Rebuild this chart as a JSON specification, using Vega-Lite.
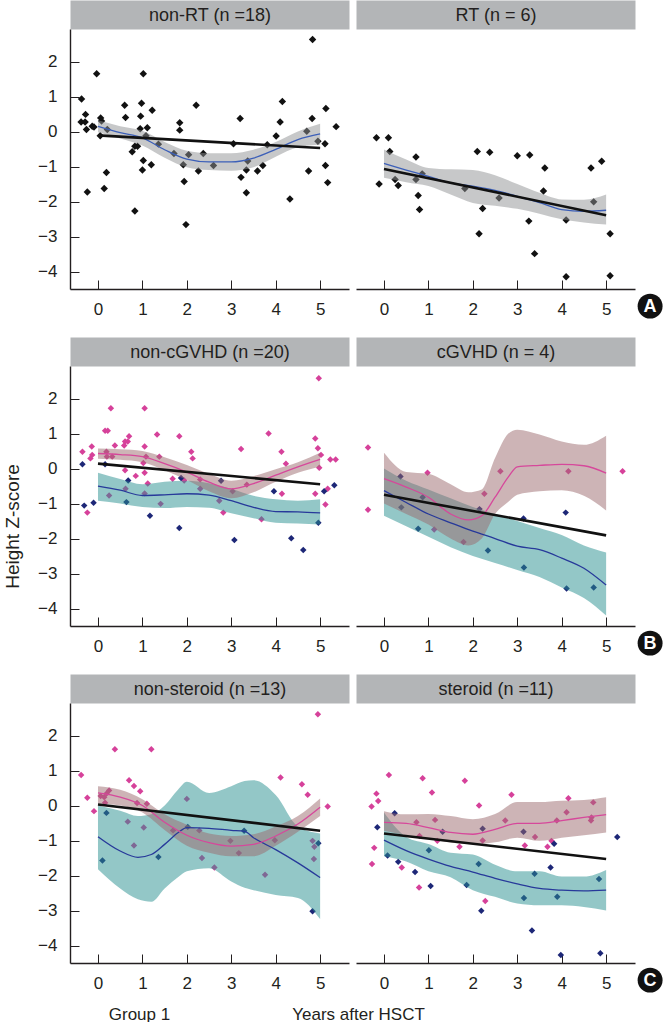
{
  "$schema": "https://vega.github.io/schema/vega-lite/v6.json",
  "padding": {"left": 3, "top": 6, "right": 0, "bottom": 0},
  "background": "white",
  "columns": 2,
  "spacing": {"column": 7, "row": 77},
  "bounds": "flush",
  "config": {
    "view": {"stroke": null},
    "font": "Liberation Sans",
    "axis": {"grid": false, "domainColor": "#231f20", "domainWidth": 1.4, "tickColor": "#231f20", "tickWidth": 1, "tickSize": -9, "labelFont": "Liberation Sans", "labelFontSize": 17, "labelColor": "#231f20", "titleFont": "Liberation Sans", "titleFontWeight": "normal", "titleColor": "#231f20", "titleFontSize": 17},
    "axisX": {"labelPadding": 21},
    "axisY": {"labelPadding": 22}
  },
  "datasets": {
    "pts": [
      {"p":"A1","g":"k","x":-0.37,"y":0.93},{"p":"A1","g":"k","x":-0.28,"y":0.49},{"p":"A1","g":"k","x":-0.38,"y":0.27},{"p":"A1","g":"k","x":-0.29,"y":0.27},{"p":"A1","g":"k","x":-0.26,"y":0.06},{"p":"A1","g":"k","x":-0.24,"y":-1.73},{"p":"A1","g":"k","x":-0.13,"y":0.15},{"p":"A1","g":"k","x":-0.09,"y":0.13},{"p":"A1","g":"k","x":-0.03,"y":1.65},{"p":"A1","g":"k","x":0.06,"y":0.39},{"p":"A1","g":"k","x":0.08,"y":0.30},{"p":"A1","g":"k","x":0.05,"y":-0.12},{"p":"A1","g":"k","x":0.21,"y":0.06},{"p":"A1","g":"k","x":0.14,"y":-1.63},{"p":"A1","g":"k","x":0.19,"y":-1.17},{"p":"A1","g":"k","x":0.60,"y":0.75},{"p":"A1","g":"k","x":0.62,"y":0.40},{"p":"A1","g":"k","x":0.77,"y":-0.58},{"p":"A1","g":"k","x":0.83,"y":-0.42},{"p":"A1","g":"k","x":0.89,"y":-0.42},{"p":"A1","g":"k","x":0.83,"y":-2.27},{"p":"A1","g":"k","x":0.98,"y":0.81},{"p":"A1","g":"k","x":0.96,"y":0.44},{"p":"A1","g":"k","x":0.95,"y":0.08},{"p":"A1","g":"k","x":1.02,"y":1.65},{"p":"A1","g":"k","x":1.02,"y":-0.83},{"p":"A1","g":"k","x":1.00,"y":-1.10},{"p":"A1","g":"k","x":1.08,"y":-0.12},{"p":"A1","g":"k","x":1.11,"y":0.11},{"p":"A1","g":"k","x":1.20,"y":-0.95},{"p":"A1","g":"k","x":1.22,"y":0.61},{"p":"A1","g":"k","x":1.36,"y":-0.36},{"p":"A1","g":"k","x":1.71,"y":-0.63},{"p":"A1","g":"k","x":1.84,"y":0.25},{"p":"A1","g":"k","x":1.84,"y":0.04},{"p":"A1","g":"k","x":1.92,"y":-0.95},{"p":"A1","g":"k","x":1.94,"y":-1.43},{"p":"A1","g":"k","x":1.98,"y":-2.66},{"p":"A1","g":"k","x":2.04,"y":-0.66},{"p":"A1","g":"k","x":2.21,"y":0.75},{"p":"A1","g":"k","x":2.26,"y":-1.13},{"p":"A1","g":"k","x":2.37,"y":-0.63},{"p":"A1","g":"k","x":2.60,"y":-0.97},{"p":"A1","g":"k","x":3.05,"y":-0.35},{"p":"A1","g":"k","x":3.20,"y":0.37},{"p":"A1","g":"k","x":3.22,"y":-1.31},{"p":"A1","g":"k","x":3.34,"y":-1.10},{"p":"A1","g":"k","x":3.37,"y":-0.84},{"p":"A1","g":"k","x":3.34,"y":-1.75},{"p":"A1","g":"k","x":3.59,"y":-1.13},{"p":"A1","g":"k","x":3.71,"y":-0.97},{"p":"A1","g":"k","x":3.81,"y":-0.38},{"p":"A1","g":"k","x":4.01,"y":-0.13},{"p":"A1","g":"k","x":4.10,"y":0.27},{"p":"A1","g":"k","x":4.15,"y":0.86},{"p":"A1","g":"k","x":4.32,"y":-1.93},{"p":"A1","g":"k","x":4.70,"y":0.01},{"p":"A1","g":"k","x":4.74,"y":-1.13},{"p":"A1","g":"k","x":4.82,"y":0.37},{"p":"A1","g":"k","x":4.83,"y":2.63},{"p":"A1","g":"k","x":4.95,"y":-0.28},{"p":"A1","g":"k","x":5.11,"y":-0.35},{"p":"A1","g":"k","x":5.12,"y":-0.97},{"p":"A1","g":"k","x":5.13,"y":0.66},{"p":"A1","g":"k","x":5.17,"y":-1.46},{"p":"A1","g":"k","x":5.36,"y":0.14},
      {"p":"A2","g":"k","x":-0.17,"y":-0.18},{"p":"A2","g":"k","x":0.10,"y":-0.18},{"p":"A2","g":"k","x":0.13,"y":-0.57},{"p":"A2","g":"k","x":-0.11,"y":-1.50},{"p":"A2","g":"k","x":0.25,"y":-1.37},{"p":"A2","g":"k","x":0.32,"y":-1.54},{"p":"A2","g":"k","x":0.72,"y":-0.73},{"p":"A2","g":"k","x":0.72,"y":-1.37},{"p":"A2","g":"k","x":0.86,"y":-1.21},{"p":"A2","g":"k","x":0.77,"y":-1.83},{"p":"A2","g":"k","x":0.80,"y":-2.23},{"p":"A2","g":"k","x":1.82,"y":-1.63},{"p":"A2","g":"k","x":2.10,"y":-0.57},{"p":"A2","g":"k","x":2.38,"y":-0.59},{"p":"A2","g":"k","x":2.22,"y":-2.20},{"p":"A2","g":"k","x":2.14,"y":-2.92},{"p":"A2","g":"k","x":2.59,"y":-1.90},{"p":"A2","g":"k","x":3.00,"y":-0.69},{"p":"A2","g":"k","x":3.28,"y":-0.67},{"p":"A2","g":"k","x":3.26,"y":-2.56},{"p":"A2","g":"k","x":3.39,"y":-3.49},{"p":"A2","g":"k","x":3.62,"y":-1.04},{"p":"A2","g":"k","x":3.59,"y":-1.70},{"p":"A2","g":"k","x":4.10,"y":-2.53},{"p":"A2","g":"k","x":4.10,"y":-4.15},{"p":"A2","g":"k","x":4.66,"y":-1.04},{"p":"A2","g":"k","x":4.72,"y":-2.01},{"p":"A2","g":"k","x":4.90,"y":-0.85},{"p":"A2","g":"k","x":5.09,"y":-2.92},{"p":"A2","g":"k","x":5.09,"y":-4.12},
      {"p":"B1","g":"p","x":-0.35,"y":0.48},{"p":"B1","g":"p","x":-0.24,"y":-1.26},{"p":"B1","g":"p","x":-0.14,"y":0.63},{"p":"B1","g":"p","x":-0.17,"y":0.29},{"p":"B1","g":"p","x":-0.13,"y":0.39},{"p":"B1","g":"p","x":0.19,"y":0.48},{"p":"B1","g":"p","x":0.16,"y":1.08},{"p":"B1","g":"p","x":0.22,"y":1.08},{"p":"B1","g":"p","x":0.20,"y":0.34},{"p":"B1","g":"p","x":0.29,"y":1.72},{"p":"B1","g":"p","x":0.38,"y":0.66},{"p":"B1","g":"p","x":0.32,"y":0.34},{"p":"B1","g":"p","x":0.25,"y":-0.77},{"p":"B1","g":"p","x":0.59,"y":0.66},{"p":"B1","g":"p","x":0.61,"y":0.77},{"p":"B1","g":"p","x":0.70,"y":0.92},{"p":"B1","g":"p","x":0.67,"y":0.77},{"p":"B1","g":"p","x":0.61,"y":-0.05},{"p":"B1","g":"p","x":0.62,"y":-0.58},{"p":"B1","g":"p","x":0.85,"y":-0.21},{"p":"B1","g":"p","x":1.05,"y":1.72},{"p":"B1","g":"p","x":1.05,"y":0.63},{"p":"B1","g":"p","x":1.02,"y":0.16},{"p":"B1","g":"p","x":1.08,"y":0.34},{"p":"B1","g":"p","x":1.05,"y":-0.12},{"p":"B1","g":"p","x":1.12,"y":-0.43},{"p":"B1","g":"p","x":1.05,"y":-0.71},{"p":"B1","g":"p","x":1.38,"y":0.34},{"p":"B1","g":"p","x":1.33,"y":0.97},{"p":"B1","g":"p","x":1.83,"y":0.92},{"p":"B1","g":"p","x":1.68,"y":-0.29},{"p":"B1","g":"p","x":1.41,"y":-1.01},{"p":"B1","g":"p","x":2.10,"y":0.48},{"p":"B1","g":"p","x":2.13,"y":0.29},{"p":"B1","g":"p","x":1.94,"y":-0.34},{"p":"B1","g":"p","x":2.30,"y":-0.31},{"p":"B1","g":"p","x":2.30,"y":-0.58},{"p":"B1","g":"p","x":2.73,"y":-0.92},{"p":"B1","g":"p","x":2.82,"y":-1.26},{"p":"B1","g":"p","x":3.03,"y":-0.65},{"p":"B1","g":"p","x":3.22,"y":0.56},{"p":"B1","g":"p","x":3.35,"y":-0.46},{"p":"B1","g":"p","x":3.68,"y":-1.45},{"p":"B1","g":"p","x":3.84,"y":1.00},{"p":"B1","g":"p","x":4.13,"y":0.48},{"p":"B1","g":"p","x":4.23,"y":0.14},{"p":"B1","g":"p","x":4.14,"y":-0.72},{"p":"B1","g":"p","x":4.89,"y":0.86},{"p":"B1","g":"p","x":4.95,"y":0.58},{"p":"B1","g":"p","x":4.97,"y":2.58},{"p":"B1","g":"p","x":4.98,"y":0.02},{"p":"B1","g":"p","x":5.02,"y":0.39},{"p":"B1","g":"p","x":4.89,"y":-0.72},{"p":"B1","g":"p","x":5.12,"y":-1.03},{"p":"B1","g":"p","x":5.17,"y":-0.58},{"p":"B1","g":"p","x":5.23,"y":0.26},{"p":"B1","g":"p","x":5.35,"y":0.26},
      {"p":"B1","g":"n","x":-0.35,"y":0.12},{"p":"B1","g":"n","x":-0.31,"y":-1.06},{"p":"B1","g":"n","x":-0.10,"y":-0.98},{"p":"B1","g":"n","x":0.16,"y":0.12},{"p":"B1","g":"n","x":0.68,"y":-0.34},{"p":"B1","g":"n","x":0.64,"y":-0.96},{"p":"B1","g":"n","x":1.17,"y":-1.35},{"p":"B1","g":"n","x":1.87,"y":-0.27},{"p":"B1","g":"n","x":1.83,"y":-1.70},{"p":"B1","g":"n","x":2.77,"y":-0.35},{"p":"B1","g":"n","x":3.07,"y":-2.04},{"p":"B1","g":"n","x":3.96,"y":-0.65},{"p":"B1","g":"n","x":4.35,"y":-1.99},{"p":"B1","g":"n","x":4.62,"y":-2.33},{"p":"B1","g":"n","x":4.96,"y":-1.55},{"p":"B1","g":"n","x":5.09,"y":-0.65},{"p":"B1","g":"n","x":5.32,"y":-0.48},
      {"p":"B2","g":"p","x":-0.36,"y":0.60},{"p":"B2","g":"p","x":-0.36,"y":-1.18},{"p":"B2","g":"p","x":0.98,"y":-0.12},{"p":"B2","g":"p","x":1.13,"y":-1.74},{"p":"B2","g":"p","x":1.79,"y":-2.10},{"p":"B2","g":"p","x":2.26,"y":-0.72},{"p":"B2","g":"p","x":2.62,"y":-0.08},{"p":"B2","g":"p","x":4.15,"y":-0.08},{"p":"B2","g":"p","x":5.37,"y":-0.08},
      {"p":"B2","g":"n","x":0.37,"y":-0.23},{"p":"B2","g":"n","x":0.39,"y":-1.11},{"p":"B2","g":"n","x":0.77,"y":-1.72},{"p":"B2","g":"n","x":0.87,"y":-0.82},{"p":"B2","g":"n","x":2.15,"y":-1.16},{"p":"B2","g":"n","x":2.34,"y":-2.34},{"p":"B2","g":"n","x":3.14,"y":-1.43},{"p":"B2","g":"n","x":3.15,"y":-2.83},{"p":"B2","g":"n","x":4.09,"y":-1.26},{"p":"B2","g":"n","x":4.11,"y":-3.43},{"p":"B2","g":"n","x":4.72,"y":-3.40},
      {"p":"C1","g":"p","x":-0.38,"y":0.87},{"p":"C1","g":"p","x":-0.24,"y":0.22},{"p":"C1","g":"p","x":-0.09,"y":-0.16},{"p":"C1","g":"p","x":0.06,"y":0.27},{"p":"C1","g":"p","x":0.14,"y":0.24},{"p":"C1","g":"p","x":0.16,"y":0.08},{"p":"C1","g":"p","x":0.19,"y":0.34},{"p":"C1","g":"p","x":0.25,"y":0.43},{"p":"C1","g":"p","x":0.38,"y":1.61},{"p":"C1","g":"p","x":0.67,"y":-0.46},{"p":"C1","g":"p","x":0.70,"y":0.72},{"p":"C1","g":"p","x":0.81,"y":0.56},{"p":"C1","g":"p","x":0.81,"y":-1.14},{"p":"C1","g":"p","x":0.95,"y":0.41},{"p":"C1","g":"p","x":0.88,"y":0.07},{"p":"C1","g":"p","x":1.03,"y":-0.63},{"p":"C1","g":"p","x":1.10,"y":0.05},{"p":"C1","g":"p","x":1.20,"y":1.61},{"p":"C1","g":"p","x":1.69,"y":-0.71},{"p":"C1","g":"p","x":2.00,"y":0.19},{"p":"C1","g":"p","x":2.28,"y":-0.71},{"p":"C1","g":"p","x":2.34,"y":-1.50},{"p":"C1","g":"p","x":2.62,"y":-1.77},{"p":"C1","g":"p","x":2.98,"y":-1.01},{"p":"C1","g":"p","x":3.17,"y":-1.36},{"p":"C1","g":"p","x":3.76,"y":-1.98},{"p":"C1","g":"p","x":3.98,"y":-0.99},{"p":"C1","g":"p","x":4.11,"y":0.80},{"p":"C1","g":"p","x":4.59,"y":0.61},{"p":"C1","g":"p","x":4.72,"y":0.31},{"p":"C1","g":"p","x":4.83,"y":-1.01},{"p":"C1","g":"p","x":4.87,"y":-1.18},{"p":"C1","g":"p","x":4.86,"y":-1.53},{"p":"C1","g":"p","x":4.95,"y":2.61},{"p":"C1","g":"p","x":5.17,"y":-0.03},
      {"p":"C1","g":"n","x":0.19,"y":-0.21},{"p":"C1","g":"n","x":0.10,"y":-1.57},{"p":"C1","g":"n","x":1.36,"y":-1.47},{"p":"C1","g":"n","x":2.02,"y":-0.61},{"p":"C1","g":"n","x":3.29,"y":-0.72},{"p":"C1","g":"n","x":4.83,"y":-3.02},{"p":"C1","g":"n","x":4.96,"y":-1.08},
      {"p":"C2","g":"p","x":-0.28,"y":-0.03},{"p":"C2","g":"p","x":-0.17,"y":0.34},{"p":"C2","g":"p","x":-0.13,"y":0.13},{"p":"C2","g":"p","x":-0.22,"y":-1.21},{"p":"C2","g":"p","x":-0.27,"y":-1.67},{"p":"C2","g":"p","x":0.11,"y":0.87},{"p":"C2","g":"p","x":0.40,"y":-1.77},{"p":"C2","g":"p","x":0.73,"y":-0.48},{"p":"C2","g":"p","x":0.80,"y":-0.87},{"p":"C2","g":"p","x":0.79,"y":-2.34},{"p":"C2","g":"p","x":0.87,"y":0.78},{"p":"C2","g":"p","x":1.08,"y":0.37},{"p":"C2","g":"p","x":1.15,"y":-0.41},{"p":"C2","g":"p","x":1.20,"y":-1.01},{"p":"C2","g":"p","x":1.70,"y":-1.18},{"p":"C2","g":"p","x":1.82,"y":0.71},{"p":"C2","g":"p","x":2.14,"y":0.00},{"p":"C2","g":"p","x":2.22,"y":-1.00},{"p":"C2","g":"p","x":2.28,"y":-2.73},{"p":"C2","g":"p","x":2.73,"y":-0.43},{"p":"C2","g":"p","x":2.87,"y":0.31},{"p":"C2","g":"p","x":3.17,"y":-1.14},{"p":"C2","g":"p","x":3.40,"y":-0.90},{"p":"C2","g":"p","x":3.68,"y":-1.18},{"p":"C2","g":"p","x":3.77,"y":-1.01},{"p":"C2","g":"p","x":3.89,"y":-0.43},{"p":"C2","g":"p","x":4.11,"y":-0.19},{"p":"C2","g":"p","x":4.15,"y":0.21},{"p":"C2","g":"p","x":4.66,"y":-0.43},{"p":"C2","g":"p","x":4.67,"y":-0.34},{"p":"C2","g":"p","x":4.71,"y":0.09},
      {"p":"C2","g":"n","x":-0.15,"y":-0.62},{"p":"C2","g":"n","x":0.24,"y":-0.22},{"p":"C2","g":"n","x":0.08,"y":-1.43},{"p":"C2","g":"n","x":0.32,"y":-1.61},{"p":"C2","g":"n","x":0.70,"y":-1.90},{"p":"C2","g":"n","x":1.01,"y":-1.28},{"p":"C2","g":"n","x":1.05,"y":-2.30},{"p":"C2","g":"n","x":1.32,"y":-0.75},{"p":"C2","g":"n","x":1.86,"y":-2.27},{"p":"C2","g":"n","x":2.13,"y":-1.67},{"p":"C2","g":"n","x":2.19,"y":-3.01},{"p":"C2","g":"n","x":2.22,"y":-0.66},{"p":"C2","g":"n","x":3.14,"y":-0.75},{"p":"C2","g":"n","x":3.15,"y":-2.64},{"p":"C2","g":"n","x":3.33,"y":-3.57},{"p":"C2","g":"n","x":3.39,"y":-1.95},{"p":"C2","g":"n","x":3.75,"y":-1.77},{"p":"C2","g":"n","x":3.83,"y":-1.09},{"p":"C2","g":"n","x":3.90,"y":-2.61},{"p":"C2","g":"n","x":3.98,"y":-4.27},{"p":"C2","g":"n","x":4.84,"y":-2.10},{"p":"C2","g":"n","x":4.87,"y":-4.22},{"p":"C2","g":"n","x":5.25,"y":-0.90}
    ],
    "fit": [
      {"p":"A1","g":"k","x":0,"y":0.15,"lo":-0.02,"hi":0.32},{"p":"A1","g":"k","x":0.5,"y":-0.03,"lo":-0.2,"hi":0.15},{"p":"A1","g":"k","x":1,"y":-0.18,"lo":-0.4,"hi":0.02},{"p":"A1","g":"k","x":1.5,"y":-0.52,"lo":-0.75,"hi":-0.3},{"p":"A1","g":"k","x":2,"y":-0.79,"lo":-1.02,"hi":-0.55},{"p":"A1","g":"k","x":2.5,"y":-0.87,"lo":-1.1,"hi":-0.62},{"p":"A1","g":"k","x":3,"y":-0.87,"lo":-1.12,"hi":-0.62},{"p":"A1","g":"k","x":3.5,"y":-0.76,"lo":-1.02,"hi":-0.52},{"p":"A1","g":"k","x":4,"y":-0.51,"lo":-0.72,"hi":-0.3},{"p":"A1","g":"k","x":4.5,"y":-0.23,"lo":-0.45,"hi":0.0},{"p":"A1","g":"k","x":5,"y":-0.07,"lo":-0.38,"hi":0.22},
      {"p":"A2","g":"k","x":0,"y":-0.91,"lo":-1.32,"hi":-0.51},{"p":"A2","g":"k","x":0.5,"y":-1.1,"lo":-1.45,"hi":-0.8},{"p":"A2","g":"k","x":1,"y":-1.28,"lo":-1.56,"hi":-1.04},{"p":"A2","g":"k","x":1.5,"y":-1.47,"lo":-1.8,"hi":-1.08},{"p":"A2","g":"k","x":2,"y":-1.56,"lo":-2.04,"hi":-1.1},{"p":"A2","g":"k","x":2.5,"y":-1.68,"lo":-2.12,"hi":-1.25},{"p":"A2","g":"k","x":3,"y":-1.85,"lo":-2.21,"hi":-1.5},{"p":"A2","g":"k","x":3.5,"y":-2.03,"lo":-2.35,"hi":-1.75},{"p":"A2","g":"k","x":4,"y":-2.23,"lo":-2.51,"hi":-1.94},{"p":"A2","g":"k","x":4.5,"y":-2.28,"lo":-2.6,"hi":-1.95},{"p":"A2","g":"k","x":5,"y":-2.25,"lo":-2.66,"hi":-1.8},
      {"p":"B1","g":"p","x":0,"y":0.43,"lo":0.28,"hi":0.57},{"p":"B1","g":"p","x":0.5,"y":0.4,"lo":0.25,"hi":0.55},{"p":"B1","g":"p","x":1,"y":0.34,"lo":0.18,"hi":0.5},{"p":"B1","g":"p","x":1.5,"y":0.14,"lo":-0.05,"hi":0.32},{"p":"B1","g":"p","x":2,"y":-0.1,"lo":-0.33,"hi":0.1},{"p":"B1","g":"p","x":2.5,"y":-0.39,"lo":-0.65,"hi":-0.15},{"p":"B1","g":"p","x":3,"y":-0.58,"lo":-0.85,"hi":-0.35},{"p":"B1","g":"p","x":3.5,"y":-0.43,"lo":-0.68,"hi":-0.22},{"p":"B1","g":"p","x":4,"y":-0.19,"lo":-0.38,"hi":-0.02},{"p":"B1","g":"p","x":4.5,"y":0.05,"lo":-0.12,"hi":0.18},{"p":"B1","g":"p","x":5,"y":0.26,"lo":0.05,"hi":0.45},
      {"p":"B1","g":"n","x":0,"y":-0.5,"lo":-0.92,"hi":-0.12},{"p":"B1","g":"n","x":0.5,"y":-0.62,"lo":-1.0,"hi":-0.3},{"p":"B1","g":"n","x":1,"y":-0.77,"lo":-1.1,"hi":-0.45},{"p":"B1","g":"n","x":1.5,"y":-0.75,"lo":-1.13,"hi":-0.38},{"p":"B1","g":"n","x":2,"y":-0.72,"lo":-1.1,"hi":-0.35},{"p":"B1","g":"n","x":2.5,"y":-0.76,"lo":-1.12,"hi":-0.42},{"p":"B1","g":"n","x":3,"y":-0.92,"lo":-1.28,"hi":-0.58},{"p":"B1","g":"n","x":3.5,"y":-1.11,"lo":-1.42,"hi":-0.78},{"p":"B1","g":"n","x":4,"y":-1.23,"lo":-1.55,"hi":-0.88},{"p":"B1","g":"n","x":4.5,"y":-1.24,"lo":-1.57,"hi":-0.92},{"p":"B1","g":"n","x":5,"y":-1.27,"lo":-1.6,"hi":-0.88},
      {"p":"B2","g":"p","x":0,"y":-0.29,"lo":-1.0,"hi":0.45},{"p":"B2","g":"p","x":0.5,"y":-0.53,"lo":-1.3,"hi":-0.1},{"p":"B2","g":"p","x":1,"y":-0.82,"lo":-1.6,"hi":-0.15},{"p":"B2","g":"p","x":1.5,"y":-1.3,"lo":-2.0,"hi":-0.45},{"p":"B2","g":"p","x":1.9,"y":-1.47,"lo":-2.2,"hi":-0.68},{"p":"B2","g":"p","x":2.2,"y":-1.35,"lo":-2.0,"hi":-0.6},{"p":"B2","g":"p","x":2.5,"y":-0.82,"lo":-1.3,"hi":0.3},{"p":"B2","g":"p","x":2.8,"y":-0.24,"lo":-0.95,"hi":1.0},{"p":"B2","g":"p","x":3,"y":0.05,"lo":-0.75,"hi":1.11},{"p":"B2","g":"p","x":3.5,"y":0.09,"lo":-0.65,"hi":0.97},{"p":"B2","g":"p","x":4,"y":0.12,"lo":-0.62,"hi":0.77},{"p":"B2","g":"p","x":4.5,"y":0.08,"lo":-0.78,"hi":0.68},{"p":"B2","g":"p","x":5,"y":-0.13,"lo":-1.2,"hi":0.94},
      {"p":"B2","g":"n","x":0,"y":-0.63,"lo":-1.35,"hi":0.0},{"p":"B2","g":"n","x":0.5,"y":-0.97,"lo":-1.65,"hi":-0.35},{"p":"B2","g":"n","x":1,"y":-1.3,"lo":-1.95,"hi":-0.6},{"p":"B2","g":"n","x":1.5,"y":-1.55,"lo":-2.25,"hi":-0.85},{"p":"B2","g":"n","x":2,"y":-1.79,"lo":-2.5,"hi":-1.1},{"p":"B2","g":"n","x":2.5,"y":-2.0,"lo":-2.7,"hi":-1.3},{"p":"B2","g":"n","x":3,"y":-2.22,"lo":-2.9,"hi":-1.5},{"p":"B2","g":"n","x":3.5,"y":-2.32,"lo":-3.1,"hi":-1.7},{"p":"B2","g":"n","x":4,"y":-2.56,"lo":-3.4,"hi":-1.9},{"p":"B2","g":"n","x":4.5,"y":-2.85,"lo":-3.7,"hi":-2.2},{"p":"B2","g":"n","x":5,"y":-3.33,"lo":-4.2,"hi":-2.4},
      {"p":"C1","g":"p","x":0,"y":0.36,"lo":0.05,"hi":0.55},{"p":"C1","g":"p","x":0.5,"y":0.24,"lo":0.0,"hi":0.45},{"p":"C1","g":"p","x":1,"y":0.0,"lo":-0.2,"hi":0.18},{"p":"C1","g":"p","x":1.5,"y":-0.48,"lo":-0.7,"hi":-0.25},{"p":"C1","g":"p","x":2,"y":-0.85,"lo":-1.15,"hi":-0.55},{"p":"C1","g":"p","x":2.5,"y":-1.06,"lo":-1.35,"hi":-0.8},{"p":"C1","g":"p","x":3,"y":-1.16,"lo":-1.45,"hi":-0.87},{"p":"C1","g":"p","x":3.5,"y":-1.11,"lo":-1.45,"hi":-0.82},{"p":"C1","g":"p","x":4,"y":-0.87,"lo":-1.15,"hi":-0.6},{"p":"C1","g":"p","x":4.5,"y":-0.53,"lo":-0.75,"hi":-0.3},{"p":"C1","g":"p","x":5,"y":-0.05,"lo":-0.3,"hi":0.2},
      {"p":"C1","g":"n","x":0,"y":-0.89,"lo":-1.82,"hi":0.0},{"p":"C1","g":"n","x":0.5,"y":-1.3,"lo":-2.37,"hi":-0.15},{"p":"C1","g":"n","x":0.9,"y":-1.48,"lo":-2.68,"hi":-0.3},{"p":"C1","g":"n","x":1.2,"y":-1.4,"lo":-2.75,"hi":-0.25},{"p":"C1","g":"n","x":1.5,"y":-1.11,"lo":-2.37,"hi":0.0},{"p":"C1","g":"n","x":1.8,"y":-0.78,"lo":-2.05,"hi":0.45},{"p":"C1","g":"n","x":2,"y":-0.63,"lo":-1.88,"hi":0.68},{"p":"C1","g":"n","x":2.5,"y":-0.65,"lo":-1.79,"hi":0.36},{"p":"C1","g":"n","x":3,"y":-0.71,"lo":-2.17,"hi":0.55},{"p":"C1","g":"n","x":3.3,"y":-0.74,"lo":-2.35,"hi":0.7},{"p":"C1","g":"n","x":3.5,"y":-0.92,"lo":-2.42,"hi":0.72},{"p":"C1","g":"n","x":4,"y":-1.26,"lo":-2.56,"hi":0.3},{"p":"C1","g":"n","x":4.5,"y":-1.64,"lo":-2.64,"hi":-0.6},{"p":"C1","g":"n","x":5,"y":-2.06,"lo":-3.24,"hi":-0.8},
      {"p":"C2","g":"p","x":0,"y":-0.48,"lo":-0.72,"hi":-0.16},{"p":"C2","g":"p","x":0.5,"y":-0.51,"lo":-0.85,"hi":-0.25},{"p":"C2","g":"p","x":1,"y":-0.63,"lo":-0.95,"hi":-0.24},{"p":"C2","g":"p","x":1.5,"y":-0.77,"lo":-1.06,"hi":-0.3},{"p":"C2","g":"p","x":2,"y":-0.82,"lo":-1.11,"hi":-0.39},{"p":"C2","g":"p","x":2.5,"y":-0.68,"lo":-1.05,"hi":-0.24},{"p":"C2","g":"p","x":3,"y":-0.51,"lo":-0.92,"hi":0.1},{"p":"C2","g":"p","x":3.5,"y":-0.51,"lo":-1.01,"hi":0.1},{"p":"C2","g":"p","x":4,"y":-0.43,"lo":-0.92,"hi":0.14},{"p":"C2","g":"p","x":4.5,"y":-0.34,"lo":-0.85,"hi":0.16},{"p":"C2","g":"p","x":5,"y":-0.26,"lo":-0.77,"hi":0.24},
      {"p":"C2","g":"n","x":0,"y":-0.99,"lo":-1.45,"hi":-0.2},{"p":"C2","g":"n","x":0.5,"y":-1.29,"lo":-1.6,"hi":-0.9},{"p":"C2","g":"n","x":1,"y":-1.53,"lo":-1.88,"hi":-1.1},{"p":"C2","g":"n","x":1.5,"y":-1.74,"lo":-2.05,"hi":-1.35},{"p":"C2","g":"n","x":2,"y":-1.9,"lo":-2.42,"hi":-1.4},{"p":"C2","g":"n","x":2.5,"y":-2.08,"lo":-2.61,"hi":-1.69},{"p":"C2","g":"n","x":3,"y":-2.24,"lo":-2.8,"hi":-1.88},{"p":"C2","g":"n","x":3.5,"y":-2.37,"lo":-2.85,"hi":-1.88},{"p":"C2","g":"n","x":4,"y":-2.42,"lo":-2.85,"hi":-2.03},{"p":"C2","g":"n","x":4.5,"y":-2.44,"lo":-2.9,"hi":-2.03},{"p":"C2","g":"n","x":5,"y":-2.42,"lo":-3.0,"hi":-1.84}
    ],
    "reg": [
      {"p":"A1","x":0,"y":-0.11},{"p":"A1","x":5,"y":-0.47},
      {"p":"A2","x":0,"y":-1.07},{"p":"A2","x":5,"y":-2.39},
      {"p":"B1","x":0,"y":0.14},{"p":"B1","x":5,"y":-0.45},
      {"p":"B2","x":0,"y":-0.75},{"p":"B2","x":5,"y":-1.91},
      {"p":"C1","x":0,"y":0.03},{"p":"C1","x":5,"y":-0.72},
      {"p":"C2","x":0,"y":-0.8},{"p":"C2","x":5,"y":-1.53}
    ]
  },
  "concat": [
    {
      "width": 279, "height": 260,
      "layer": [
        {"data": {"name": "pts"}, "transform": [{"filter": "datum.p == 'A1'"}],
         "mark": {"type": "point", "shape": "diamond", "filled": true, "size": 55, "opacity": 1},
         "encoding": {
           "x": {"field": "x", "type": "quantitative", "scale": {"domain": [-0.63, 5.65], "nice": false, "zero": false}, "axis": {"orient": "bottom", "values": [0,1,2,3,4,5], "title": null}},
           "y": {"field": "y", "type": "quantitative", "scale": {"domain": [-4.5, 2.93], "nice": false, "zero": false}, "axis": {"orient": "left", "values": [-4,-3,-2,-1,0,1,2], "title": null}},
           "color": {"field": "g", "type": "nominal", "scale": {"domain": ["k","p","n"], "range": ["#111111","#d6419a","#1d2777"]}, "legend": null}
         }},
        {"data": {"name": "fit"}, "transform": [{"filter": "datum.p == 'A1' && datum.g == 'k'"}],
         "mark": {"type": "area", "color": "#8f9194", "opacity": 0.5, "interpolate": "monotone"},
         "encoding": {
           "x": {"field": "x", "type": "quantitative", "scale": {"domain": [-0.63, 5.65], "nice": false, "zero": false}, "axis": null},
           "y": {"field": "lo", "type": "quantitative", "stack": null, "scale": {"domain": [-4.5, 2.93], "nice": false, "zero": false}, "axis": {"orient": "left", "values": [-4,-3,-2,-1,0,1,2], "title": null}},
           "y2": {"field": "hi"}}},
        {"data": {"name": "fit"}, "transform": [{"filter": "datum.p == 'A1' && datum.g == 'k'"}],
         "mark": {"type": "line", "color": "#3c5fb8", "strokeWidth": 1.3, "interpolate": "monotone"},
         "encoding": {
           "x": {"field": "x", "type": "quantitative", "scale": {"domain": [-0.63, 5.65], "nice": false, "zero": false}, "axis": null},
           "y": {"field": "y", "type": "quantitative", "scale": {"domain": [-4.5, 2.93], "nice": false, "zero": false}, "axis": {"orient": "left", "values": [-4,-3,-2,-1,0,1,2], "title": null}}}},
        {"data": {"name": "reg"}, "transform": [{"filter": "datum.p == 'A1'"}],
         "mark": {"type": "line", "color": "#111111", "strokeWidth": 2.6},
         "encoding": {
           "x": {"field": "x", "type": "quantitative", "scale": {"domain": [-0.63, 5.65], "nice": false, "zero": false}, "axis": {"orient": "top", "labels": false, "ticks": false, "domainColor": "#b3b5b7", "domainWidth": 29, "offset": 14.5, "title": "non-RT (n =18)", "titleFontSize": 18, "titleY": 1, "titleBaseline": "middle"}},
           "y": {"field": "y", "type": "quantitative", "scale": {"domain": [-4.5, 2.93], "nice": false, "zero": false}, "axis": {"orient": "left", "values": [-4,-3,-2,-1,0,1,2], "title": null}}}}
      ]
    },
    {
      "width": 279, "height": 260,
      "layer": [
        {"data": {"name": "pts"}, "transform": [{"filter": "datum.p == 'A2'"}],
         "mark": {"type": "point", "shape": "diamond", "filled": true, "size": 55, "opacity": 1},
         "encoding": {
           "x": {"field": "x", "type": "quantitative", "scale": {"domain": [-0.63, 5.65], "nice": false, "zero": false}, "axis": {"orient": "bottom", "values": [0,1,2,3,4,5], "title": null}},
           "y": {"field": "y", "type": "quantitative", "scale": {"domain": [-4.5, 2.93], "nice": false, "zero": false}, "axis": null},
           "color": {"field": "g", "type": "nominal", "scale": {"domain": ["k","p","n"], "range": ["#111111","#d6419a","#1d2777"]}, "legend": null}
         }},
        {"data": {"name": "fit"}, "transform": [{"filter": "datum.p == 'A2' && datum.g == 'k'"}],
         "mark": {"type": "area", "color": "#8f9194", "opacity": 0.5, "interpolate": "monotone"},
         "encoding": {
           "x": {"field": "x", "type": "quantitative", "scale": {"domain": [-0.63, 5.65], "nice": false, "zero": false}, "axis": null},
           "y": {"field": "lo", "type": "quantitative", "stack": null, "scale": {"domain": [-4.5, 2.93], "nice": false, "zero": false}, "axis": null},
           "y2": {"field": "hi"}}},
        {"data": {"name": "fit"}, "transform": [{"filter": "datum.p == 'A2' && datum.g == 'k'"}],
         "mark": {"type": "line", "color": "#3c5fb8", "strokeWidth": 1.3, "interpolate": "monotone"},
         "encoding": {
           "x": {"field": "x", "type": "quantitative", "scale": {"domain": [-0.63, 5.65], "nice": false, "zero": false}, "axis": null},
           "y": {"field": "y", "type": "quantitative", "scale": {"domain": [-4.5, 2.93], "nice": false, "zero": false}, "axis": null}}},
        {"data": {"name": "reg"}, "transform": [{"filter": "datum.p == 'A2'"}],
         "mark": {"type": "line", "color": "#111111", "strokeWidth": 2.6},
         "encoding": {
           "x": {"field": "x", "type": "quantitative", "scale": {"domain": [-0.63, 5.65], "nice": false, "zero": false}, "axis": {"orient": "top", "labels": false, "ticks": false, "domainColor": "#b3b5b7", "domainWidth": 29, "offset": 14.5, "title": "RT (n = 6)", "titleFontSize": 18, "titleY": 1, "titleBaseline": "middle"}},
           "y": {"field": "y", "type": "quantitative", "scale": {"domain": [-4.5, 2.93], "nice": false, "zero": false}, "axis": null}}},
        {"data": {"values": [{"lab": "A"}]},
         "mark": {"type": "point", "shape": "circle", "filled": true, "color": "#111111", "size": 620, "opacity": 1},
         "encoding": {
           "x": {"datum": 5.99, "type": "quantitative", "scale": {"domain": [-0.63, 5.65], "nice": false, "zero": false}, "axis": null},
           "y": {"datum": -4.99, "type": "quantitative", "scale": {"domain": [-4.5, 2.93], "nice": false, "zero": false}, "axis": null}}},
        {"data": {"values": [{"lab": "A"}]},
         "mark": {"type": "text", "color": "white", "fontSize": 18, "fontWeight": "bold", "align": "center", "baseline": "middle", "dy": 1},
         "encoding": {
           "x": {"datum": 5.99, "type": "quantitative", "scale": {"domain": [-0.63, 5.65], "nice": false, "zero": false}, "axis": null},
           "y": {"datum": -4.99, "type": "quantitative", "scale": {"domain": [-4.5, 2.93], "nice": false, "zero": false}, "axis": null},
           "text": {"field": "lab"}}}
      ]
    },
    {
      "width": 279, "height": 260,
      "layer": [
        {"data": {"name": "pts"}, "transform": [{"filter": "datum.p == 'B1'"}],
         "mark": {"type": "point", "shape": "diamond", "filled": true, "size": 42, "opacity": 1},
         "encoding": {
           "x": {"field": "x", "type": "quantitative", "scale": {"domain": [-0.63, 5.65], "nice": false, "zero": false}, "axis": {"orient": "bottom", "values": [0,1,2,3,4,5], "title": null}},
           "y": {"field": "y", "type": "quantitative", "scale": {"domain": [-4.5, 2.93], "nice": false, "zero": false}, "axis": {"orient": "left", "values": [-4,-3,-2,-1,0,1,2], "title": "Height Z-score", "titleFontSize": 19, "titleX": -58, "titleY": 160, "titleAlign": "center", "titleBaseline": "middle"}},
           "color": {"field": "g", "type": "nominal", "scale": {"domain": ["k","p","n"], "range": ["#111111","#d6419a","#1d2777"]}, "legend": null}
         }},
        {"data": {"name": "fit"}, "transform": [{"filter": "datum.p == 'B1' && datum.g == 'n'"}],
         "mark": {"type": "area", "color": "#278f8f", "opacity": 0.5, "interpolate": "monotone"},
         "encoding": {
           "x": {"field": "x", "type": "quantitative", "scale": {"domain": [-0.63, 5.65], "nice": false, "zero": false}, "axis": null},
           "y": {"field": "lo", "type": "quantitative", "stack": null, "scale": {"domain": [-4.5, 2.93], "nice": false, "zero": false}, "axis": {"orient": "left", "values": [-4,-3,-2,-1,0,1,2], "title": "Height Z-score", "titleFontSize": 19, "titleX": -58, "titleY": 160, "titleAlign": "center", "titleBaseline": "middle"}},
           "y2": {"field": "hi"}}},
        {"data": {"name": "fit"}, "transform": [{"filter": "datum.p == 'B1' && datum.g == 'p'"}],
         "mark": {"type": "area", "color": "#9b696d", "opacity": 0.5, "interpolate": "monotone"},
         "encoding": {
           "x": {"field": "x", "type": "quantitative", "scale": {"domain": [-0.63, 5.65], "nice": false, "zero": false}, "axis": null},
           "y": {"field": "lo", "type": "quantitative", "stack": null, "scale": {"domain": [-4.5, 2.93], "nice": false, "zero": false}, "axis": {"orient": "left", "values": [-4,-3,-2,-1,0,1,2], "title": "Height Z-score", "titleFontSize": 19, "titleX": -58, "titleY": 160, "titleAlign": "center", "titleBaseline": "middle"}},
           "y2": {"field": "hi"}}},
        {"data": {"name": "fit"}, "transform": [{"filter": "datum.p == 'B1' && datum.g == 'n'"}],
         "mark": {"type": "line", "color": "#27399a", "strokeWidth": 1.3, "interpolate": "monotone"},
         "encoding": {
           "x": {"field": "x", "type": "quantitative", "scale": {"domain": [-0.63, 5.65], "nice": false, "zero": false}, "axis": null},
           "y": {"field": "y", "type": "quantitative", "scale": {"domain": [-4.5, 2.93], "nice": false, "zero": false}, "axis": {"orient": "left", "values": [-4,-3,-2,-1,0,1,2], "title": "Height Z-score", "titleFontSize": 19, "titleX": -58, "titleY": 160, "titleAlign": "center", "titleBaseline": "middle"}}}},
        {"data": {"name": "fit"}, "transform": [{"filter": "datum.p == 'B1' && datum.g == 'p'"}],
         "mark": {"type": "line", "color": "#d6489b", "strokeWidth": 1.3, "interpolate": "monotone"},
         "encoding": {
           "x": {"field": "x", "type": "quantitative", "scale": {"domain": [-0.63, 5.65], "nice": false, "zero": false}, "axis": null},
           "y": {"field": "y", "type": "quantitative", "scale": {"domain": [-4.5, 2.93], "nice": false, "zero": false}, "axis": {"orient": "left", "values": [-4,-3,-2,-1,0,1,2], "title": "Height Z-score", "titleFontSize": 19, "titleX": -58, "titleY": 160, "titleAlign": "center", "titleBaseline": "middle"}}}},
        {"data": {"name": "reg"}, "transform": [{"filter": "datum.p == 'B1'"}],
         "mark": {"type": "line", "color": "#111111", "strokeWidth": 2.6},
         "encoding": {
           "x": {"field": "x", "type": "quantitative", "scale": {"domain": [-0.63, 5.65], "nice": false, "zero": false}, "axis": {"orient": "top", "labels": false, "ticks": false, "domainColor": "#b3b5b7", "domainWidth": 29, "offset": 14.5, "title": "non-cGVHD (n =20)", "titleFontSize": 18, "titleY": 1, "titleBaseline": "middle"}},
           "y": {"field": "y", "type": "quantitative", "scale": {"domain": [-4.5, 2.93], "nice": false, "zero": false}, "axis": {"orient": "left", "values": [-4,-3,-2,-1,0,1,2], "title": "Height Z-score", "titleFontSize": 19, "titleX": -58, "titleY": 160, "titleAlign": "center", "titleBaseline": "middle"}}}}
      ]
    },
    {
      "width": 279, "height": 260,
      "layer": [
        {"data": {"name": "pts"}, "transform": [{"filter": "datum.p == 'B2'"}],
         "mark": {"type": "point", "shape": "diamond", "filled": true, "size": 42, "opacity": 1},
         "encoding": {
           "x": {"field": "x", "type": "quantitative", "scale": {"domain": [-0.63, 5.65], "nice": false, "zero": false}, "axis": {"orient": "bottom", "values": [0,1,2,3,4,5], "title": null}},
           "y": {"field": "y", "type": "quantitative", "scale": {"domain": [-4.5, 2.93], "nice": false, "zero": false}, "axis": null},
           "color": {"field": "g", "type": "nominal", "scale": {"domain": ["k","p","n"], "range": ["#111111","#d6419a","#1d2777"]}, "legend": null}
         }},
        {"data": {"name": "fit"}, "transform": [{"filter": "datum.p == 'B2' && datum.g == 'n'"}],
         "mark": {"type": "area", "color": "#278f8f", "opacity": 0.5, "interpolate": "monotone"},
         "encoding": {
           "x": {"field": "x", "type": "quantitative", "scale": {"domain": [-0.63, 5.65], "nice": false, "zero": false}, "axis": null},
           "y": {"field": "lo", "type": "quantitative", "stack": null, "scale": {"domain": [-4.5, 2.93], "nice": false, "zero": false}, "axis": null},
           "y2": {"field": "hi"}}},
        {"data": {"name": "fit"}, "transform": [{"filter": "datum.p == 'B2' && datum.g == 'p'"}],
         "mark": {"type": "area", "color": "#9b696d", "opacity": 0.5, "interpolate": "monotone"},
         "encoding": {
           "x": {"field": "x", "type": "quantitative", "scale": {"domain": [-0.63, 5.65], "nice": false, "zero": false}, "axis": null},
           "y": {"field": "lo", "type": "quantitative", "stack": null, "scale": {"domain": [-4.5, 2.93], "nice": false, "zero": false}, "axis": null},
           "y2": {"field": "hi"}}},
        {"data": {"name": "fit"}, "transform": [{"filter": "datum.p == 'B2' && datum.g == 'n'"}],
         "mark": {"type": "line", "color": "#27399a", "strokeWidth": 1.3, "interpolate": "monotone"},
         "encoding": {
           "x": {"field": "x", "type": "quantitative", "scale": {"domain": [-0.63, 5.65], "nice": false, "zero": false}, "axis": null},
           "y": {"field": "y", "type": "quantitative", "scale": {"domain": [-4.5, 2.93], "nice": false, "zero": false}, "axis": null}}},
        {"data": {"name": "fit"}, "transform": [{"filter": "datum.p == 'B2' && datum.g == 'p'"}],
         "mark": {"type": "line", "color": "#d6489b", "strokeWidth": 1.3, "interpolate": "monotone"},
         "encoding": {
           "x": {"field": "x", "type": "quantitative", "scale": {"domain": [-0.63, 5.65], "nice": false, "zero": false}, "axis": null},
           "y": {"field": "y", "type": "quantitative", "scale": {"domain": [-4.5, 2.93], "nice": false, "zero": false}, "axis": null}}},
        {"data": {"name": "reg"}, "transform": [{"filter": "datum.p == 'B2'"}],
         "mark": {"type": "line", "color": "#111111", "strokeWidth": 2.6},
         "encoding": {
           "x": {"field": "x", "type": "quantitative", "scale": {"domain": [-0.63, 5.65], "nice": false, "zero": false}, "axis": {"orient": "top", "labels": false, "ticks": false, "domainColor": "#b3b5b7", "domainWidth": 29, "offset": 14.5, "title": "cGVHD (n = 4)", "titleFontSize": 18, "titleY": 1, "titleBaseline": "middle"}},
           "y": {"field": "y", "type": "quantitative", "scale": {"domain": [-4.5, 2.93], "nice": false, "zero": false}, "axis": null}}},
        {"data": {"values": [{"lab": "B"}]},
         "mark": {"type": "point", "shape": "circle", "filled": true, "color": "#111111", "size": 620, "opacity": 1},
         "encoding": {
           "x": {"datum": 5.99, "type": "quantitative", "scale": {"domain": [-0.63, 5.65], "nice": false, "zero": false}, "axis": null},
           "y": {"datum": -4.99, "type": "quantitative", "scale": {"domain": [-4.5, 2.93], "nice": false, "zero": false}, "axis": null}}},
        {"data": {"values": [{"lab": "B"}]},
         "mark": {"type": "text", "color": "white", "fontSize": 18, "fontWeight": "bold", "align": "center", "baseline": "middle", "dy": 1},
         "encoding": {
           "x": {"datum": 5.99, "type": "quantitative", "scale": {"domain": [-0.63, 5.65], "nice": false, "zero": false}, "axis": null},
           "y": {"datum": -4.99, "type": "quantitative", "scale": {"domain": [-4.5, 2.93], "nice": false, "zero": false}, "axis": null},
           "text": {"field": "lab"}}}
      ]
    },
    {
      "width": 279, "height": 260,
      "layer": [
        {"data": {"name": "pts"}, "transform": [{"filter": "datum.p == 'C1'"}],
         "mark": {"type": "point", "shape": "diamond", "filled": true, "size": 42, "opacity": 1},
         "encoding": {
           "x": {"field": "x", "type": "quantitative", "scale": {"domain": [-0.63, 5.65], "nice": false, "zero": false}, "axis": {"orient": "bottom", "values": [0,1,2,3,4,5], "title": "Group 1", "titleX": 69, "titleY": 51, "titleAlign": "center", "titleBaseline": "middle"}},
           "y": {"field": "y", "type": "quantitative", "scale": {"domain": [-4.5, 2.93], "nice": false, "zero": false}, "axis": {"orient": "left", "values": [-4,-3,-2,-1,0,1,2], "title": null}},
           "color": {"field": "g", "type": "nominal", "scale": {"domain": ["k","p","n"], "range": ["#111111","#d6419a","#1d2777"]}, "legend": null}
         }},
        {"data": {"name": "fit"}, "transform": [{"filter": "datum.p == 'C1' && datum.g == 'n'"}],
         "mark": {"type": "area", "color": "#278f8f", "opacity": 0.5, "interpolate": "monotone"},
         "encoding": {
           "x": {"field": "x", "type": "quantitative", "scale": {"domain": [-0.63, 5.65], "nice": false, "zero": false}, "axis": null},
           "y": {"field": "lo", "type": "quantitative", "stack": null, "scale": {"domain": [-4.5, 2.93], "nice": false, "zero": false}, "axis": {"orient": "left", "values": [-4,-3,-2,-1,0,1,2], "title": null}},
           "y2": {"field": "hi"}}},
        {"data": {"name": "fit"}, "transform": [{"filter": "datum.p == 'C1' && datum.g == 'p'"}],
         "mark": {"type": "area", "color": "#9b696d", "opacity": 0.5, "interpolate": "monotone"},
         "encoding": {
           "x": {"field": "x", "type": "quantitative", "scale": {"domain": [-0.63, 5.65], "nice": false, "zero": false}, "axis": null},
           "y": {"field": "lo", "type": "quantitative", "stack": null, "scale": {"domain": [-4.5, 2.93], "nice": false, "zero": false}, "axis": {"orient": "left", "values": [-4,-3,-2,-1,0,1,2], "title": null}},
           "y2": {"field": "hi"}}},
        {"data": {"name": "fit"}, "transform": [{"filter": "datum.p == 'C1' && datum.g == 'n'"}],
         "mark": {"type": "line", "color": "#27399a", "strokeWidth": 1.3, "interpolate": "monotone"},
         "encoding": {
           "x": {"field": "x", "type": "quantitative", "scale": {"domain": [-0.63, 5.65], "nice": false, "zero": false}, "axis": null},
           "y": {"field": "y", "type": "quantitative", "scale": {"domain": [-4.5, 2.93], "nice": false, "zero": false}, "axis": {"orient": "left", "values": [-4,-3,-2,-1,0,1,2], "title": null}}}},
        {"data": {"name": "fit"}, "transform": [{"filter": "datum.p == 'C1' && datum.g == 'p'"}],
         "mark": {"type": "line", "color": "#d6489b", "strokeWidth": 1.3, "interpolate": "monotone"},
         "encoding": {
           "x": {"field": "x", "type": "quantitative", "scale": {"domain": [-0.63, 5.65], "nice": false, "zero": false}, "axis": null},
           "y": {"field": "y", "type": "quantitative", "scale": {"domain": [-4.5, 2.93], "nice": false, "zero": false}, "axis": {"orient": "left", "values": [-4,-3,-2,-1,0,1,2], "title": null}}}},
        {"data": {"name": "reg"}, "transform": [{"filter": "datum.p == 'C1'"}],
         "mark": {"type": "line", "color": "#111111", "strokeWidth": 2.6},
         "encoding": {
           "x": {"field": "x", "type": "quantitative", "scale": {"domain": [-0.63, 5.65], "nice": false, "zero": false}, "axis": {"orient": "top", "labels": false, "ticks": false, "domainColor": "#b3b5b7", "domainWidth": 29, "offset": 14.5, "title": "non-steroid (n =13)", "titleFontSize": 18, "titleY": 1, "titleBaseline": "middle"}},
           "y": {"field": "y", "type": "quantitative", "scale": {"domain": [-4.5, 2.93], "nice": false, "zero": false}, "axis": {"orient": "left", "values": [-4,-3,-2,-1,0,1,2], "title": null}}}}
      ]
    },
    {
      "width": 279, "height": 260,
      "layer": [
        {"data": {"name": "pts"}, "transform": [{"filter": "datum.p == 'C2'"}],
         "mark": {"type": "point", "shape": "diamond", "filled": true, "size": 42, "opacity": 1},
         "encoding": {
           "x": {"field": "x", "type": "quantitative", "scale": {"domain": [-0.63, 5.65], "nice": false, "zero": false}, "axis": {"orient": "bottom", "values": [0,1,2,3,4,5], "title": "Years after HSCT", "titleX": 2, "titleY": 51, "titleAlign": "center", "titleBaseline": "middle"}},
           "y": {"field": "y", "type": "quantitative", "scale": {"domain": [-4.5, 2.93], "nice": false, "zero": false}, "axis": null},
           "color": {"field": "g", "type": "nominal", "scale": {"domain": ["k","p","n"], "range": ["#111111","#d6419a","#1d2777"]}, "legend": null}
         }},
        {"data": {"name": "fit"}, "transform": [{"filter": "datum.p == 'C2' && datum.g == 'n'"}],
         "mark": {"type": "area", "color": "#278f8f", "opacity": 0.5, "interpolate": "monotone"},
         "encoding": {
           "x": {"field": "x", "type": "quantitative", "scale": {"domain": [-0.63, 5.65], "nice": false, "zero": false}, "axis": null},
           "y": {"field": "lo", "type": "quantitative", "stack": null, "scale": {"domain": [-4.5, 2.93], "nice": false, "zero": false}, "axis": null},
           "y2": {"field": "hi"}}},
        {"data": {"name": "fit"}, "transform": [{"filter": "datum.p == 'C2' && datum.g == 'p'"}],
         "mark": {"type": "area", "color": "#9b696d", "opacity": 0.5, "interpolate": "monotone"},
         "encoding": {
           "x": {"field": "x", "type": "quantitative", "scale": {"domain": [-0.63, 5.65], "nice": false, "zero": false}, "axis": null},
           "y": {"field": "lo", "type": "quantitative", "stack": null, "scale": {"domain": [-4.5, 2.93], "nice": false, "zero": false}, "axis": null},
           "y2": {"field": "hi"}}},
        {"data": {"name": "fit"}, "transform": [{"filter": "datum.p == 'C2' && datum.g == 'n'"}],
         "mark": {"type": "line", "color": "#27399a", "strokeWidth": 1.3, "interpolate": "monotone"},
         "encoding": {
           "x": {"field": "x", "type": "quantitative", "scale": {"domain": [-0.63, 5.65], "nice": false, "zero": false}, "axis": null},
           "y": {"field": "y", "type": "quantitative", "scale": {"domain": [-4.5, 2.93], "nice": false, "zero": false}, "axis": null}}},
        {"data": {"name": "fit"}, "transform": [{"filter": "datum.p == 'C2' && datum.g == 'p'"}],
         "mark": {"type": "line", "color": "#d6489b", "strokeWidth": 1.3, "interpolate": "monotone"},
         "encoding": {
           "x": {"field": "x", "type": "quantitative", "scale": {"domain": [-0.63, 5.65], "nice": false, "zero": false}, "axis": null},
           "y": {"field": "y", "type": "quantitative", "scale": {"domain": [-4.5, 2.93], "nice": false, "zero": false}, "axis": null}}},
        {"data": {"name": "reg"}, "transform": [{"filter": "datum.p == 'C2'"}],
         "mark": {"type": "line", "color": "#111111", "strokeWidth": 2.6},
         "encoding": {
           "x": {"field": "x", "type": "quantitative", "scale": {"domain": [-0.63, 5.65], "nice": false, "zero": false}, "axis": {"orient": "top", "labels": false, "ticks": false, "domainColor": "#b3b5b7", "domainWidth": 29, "offset": 14.5, "title": "steroid (n =11)", "titleFontSize": 18, "titleY": 1, "titleBaseline": "middle"}},
           "y": {"field": "y", "type": "quantitative", "scale": {"domain": [-4.5, 2.93], "nice": false, "zero": false}, "axis": null}}},
        {"data": {"values": [{"lab": "C"}]},
         "mark": {"type": "point", "shape": "circle", "filled": true, "color": "#111111", "size": 620, "opacity": 1},
         "encoding": {
           "x": {"datum": 5.99, "type": "quantitative", "scale": {"domain": [-0.63, 5.65], "nice": false, "zero": false}, "axis": null},
           "y": {"datum": -4.99, "type": "quantitative", "scale": {"domain": [-4.5, 2.93], "nice": false, "zero": false}, "axis": null}}},
        {"data": {"values": [{"lab": "C"}]},
         "mark": {"type": "text", "color": "white", "fontSize": 18, "fontWeight": "bold", "align": "center", "baseline": "middle", "dy": 1},
         "encoding": {
           "x": {"datum": 5.99, "type": "quantitative", "scale": {"domain": [-0.63, 5.65], "nice": false, "zero": false}, "axis": null},
           "y": {"datum": -4.99, "type": "quantitative", "scale": {"domain": [-4.5, 2.93], "nice": false, "zero": false}, "axis": null},
           "text": {"field": "lab"}}}
      ]
    }
  ]
}
